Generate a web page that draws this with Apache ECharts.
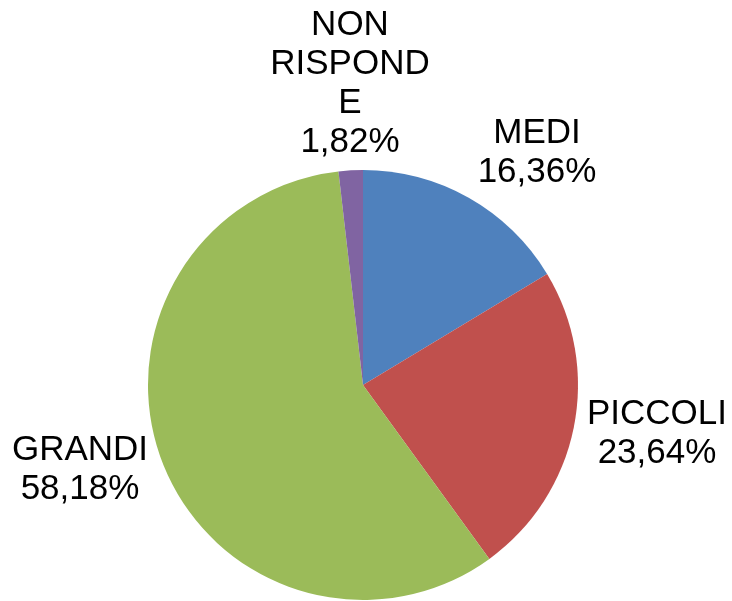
<!DOCTYPE html>
<html>
<head>
<meta charset="utf-8">
<script src="https://cdn.jsdelivr.net/npm/echarts@6/dist/echarts.min.js"></script>
<style>html,body{margin:0;padding:0;background:#fff}#c{width:732px;height:601px}</style>
</head>
<body>
<div id="c"></div>
<script>
const categories = ["MEDI", "PICCOLI", "GRANDI", "NON\nRISPOND\nE"];
const values = [16.36, 23.64, 58.18, 1.82];
const colors = ["#4F81BD", "#C0504D", "#9BBB59", "#8064A2"];
// label centre points (layout only)
const labelAnchors = [[537, 153], [657, 434], [80, 470], [350, 84]];

const chart = echarts.init(document.getElementById('c'), null, {renderer: 'canvas'});
chart.setOption({
  backgroundColor: '#ffffff',
  animation: false,
  series: [{
    type: 'pie',
    center: [363, 385],
    radius: 215,
    startAngle: 90,
    clockwise: true,
    data: categories.map((c, i) => ({name: c, value: values[i], itemStyle: {color: colors[i]}})),
    itemStyle: {borderColor: '#ffffff', borderWidth: 0},
    label: {
      show: true,
      position: 'outside',
      overflow: 'none',
      formatter: p => p.name + '\n' + p.value.toFixed(2).replace('.', ',') + '%',
      fontFamily: 'Liberation Sans, Arial, sans-serif',
      fontSize: 35,
      lineHeight: 39,
      color: '#000',
      align: 'center'
    },
    labelLine: {show: false},
    labelLayout: p => ({
      x: labelAnchors[p.dataIndex][0],
      y: labelAnchors[p.dataIndex][1],
      align: 'center',
      verticalAlign: 'middle'
    })
  }]
});
</script>
</body>
</html>
